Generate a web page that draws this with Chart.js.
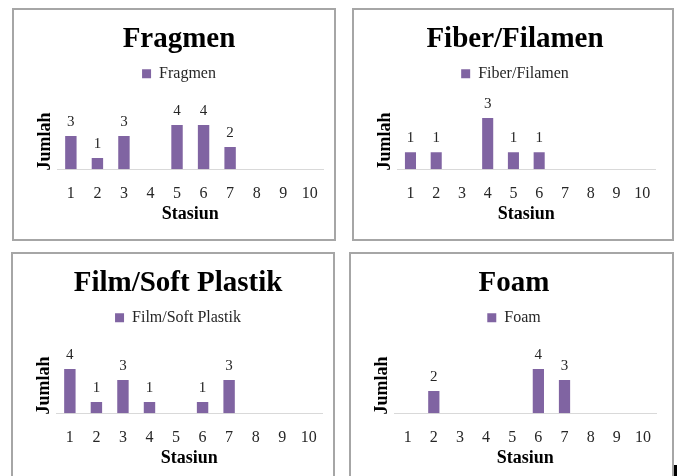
<!DOCTYPE html>
<html>
<head>
<meta charset="utf-8">
<script src="https://cdn.jsdelivr.net/npm/chart.js@4.4.1/dist/chart.umd.min.js"></script>
<style>
  html, body { margin: 0; padding: 0; background: #fff; }
  body { width: 681px; height: 476px; position: relative; overflow: hidden; }
  .panel { position: absolute; box-sizing: border-box; border: 2px solid #a6a6a6; background: #fff; }
  .panel canvas { display: block; }
  #mark { position: absolute; left: 674px; top: 465px; width: 3px; height: 11px; background: #000; }
</style>
</head>
<body>
<div class="panel" id="p1" style="left:12px; top:8px; width:324px; height:233px;"><canvas id="c1"></canvas></div>
<div class="panel" id="p2" style="left:352px; top:8px; width:322px; height:233px;"><canvas id="c2"></canvas></div>
<div class="panel" id="p3" style="left:11px; top:252px; width:324px; height:233px;"><canvas id="c3"></canvas></div>
<div class="panel" id="p4" style="left:349px; top:252px; width:325px; height:233px;"><canvas id="c4"></canvas></div>
<div id="mark"></div>
<script>
// data
const stasiun = ["1", "2", "3", "4", "5", "6", "7", "8", "9", "10"];
const fragmen = [3, 1, 3, null, 4, 4, 2, null, null, null];
const fiberFilamen = [1, 1, null, 3, 1, 1, null, null, null, null];
const filmSoftPlastik = [4, 1, 3, 1, null, 1, 3, null, null, null];
const foam = [null, 2, null, null, null, 4, 3, null, null, null];

const titles = ["Fragmen", "Fiber/Filamen", "Film/Soft Plastik", "Foam"];
const series = [fragmen, fiberFilamen, filmSoftPlastik, foam];
const yMax = [5, 3.25, 5, 5];
const padRight = [11, 17, 11, 16];

const purple = "#8064a2";
const serif = "'Liberation Serif', 'Times New Roman', serif";

// value labels above the bars
const valueLabels = {
  id: "valueLabels",
  afterDatasetsDraw(chart) {
    const ctx = chart.ctx;
    const meta = chart.getDatasetMeta(0);
    const data = chart.data.datasets[0].data;
    ctx.save();
    ctx.font = "15px " + serif;
    ctx.fillStyle = "#262626";
    ctx.textAlign = "center";
    ctx.textBaseline = "middle";
    meta.data.forEach((bar, i) => {
      if (data[i] == null) return;
      ctx.fillText(String(data[i]), bar.x, bar.y - 14);
    });
    ctx.restore();
  }
};

// leave a gap under the legend, like the excel plot area
const legendGap = {
  id: "legendGap",
  beforeInit(chart) {
    const fit = chart.legend.fit;
    chart.legend.fit = function () {
      fit.bind(chart.legend)();
      this.height += 22;
    };
  }
};

function makeChart(i) {
  const panel = document.getElementById("p" + (i + 1));
  const canvas = document.getElementById("c" + (i + 1));
  canvas.width = panel.clientWidth;
  canvas.height = panel.clientHeight;
  return new Chart(canvas, {
    type: "bar",
    data: {
      labels: stasiun,
      datasets: [{
        label: titles[i],
        data: series[i],
        backgroundColor: purple,
        borderWidth: 0,
        barPercentage: 0.43,
        categoryPercentage: 1
      }]
    },
    options: {
      responsive: false,
      animation: false,
      layout: { padding: { top: 0, left: 21, right: padRight[i], bottom: 11 } },
      plugins: {
        title: {
          display: true,
          text: titles[i],
          color: "#000",
          font: { family: serif, size: 29, weight: "bold" },
          padding: { top: 12, bottom: 1 }
        },
        legend: {
          display: true,
          labels: {
            color: "#262626",
            font: { family: serif, size: 16 },
            boxWidth: 9,
            boxHeight: 9,
            padding: 8
          }
        },
        tooltip: { enabled: false }
      },
      scales: {
        x: {
          grid: { display: false, drawTicks: true, tickLength: 15 },
          border: { display: true, color: "#d9d9d9", width: 1 },
          ticks: { color: "#262626", font: { family: serif, size: 16 }, padding: 0 },
          title: {
            display: true,
            text: "Stasiun",
            color: "#000",
            font: { family: serif, size: 18, weight: "bold" },
            padding: { top: 0, bottom: 3 }
          }
        },
        y: {
          min: 0,
          max: yMax[i],
          grid: { display: false, drawTicks: false },
          border: { display: false },
          ticks: { display: false },
          title: {
            display: true,
            text: "Jumlah",
            color: "#000",
            font: { family: serif, size: 18, weight: "bold" },
            padding: { top: 0, bottom: 1 }
          }
        }
      }
    },
    plugins: [valueLabels, legendGap]
  });
}

for (let i = 0; i < 4; i++) {
  makeChart(i);
}
</script>
</body>
</html>
